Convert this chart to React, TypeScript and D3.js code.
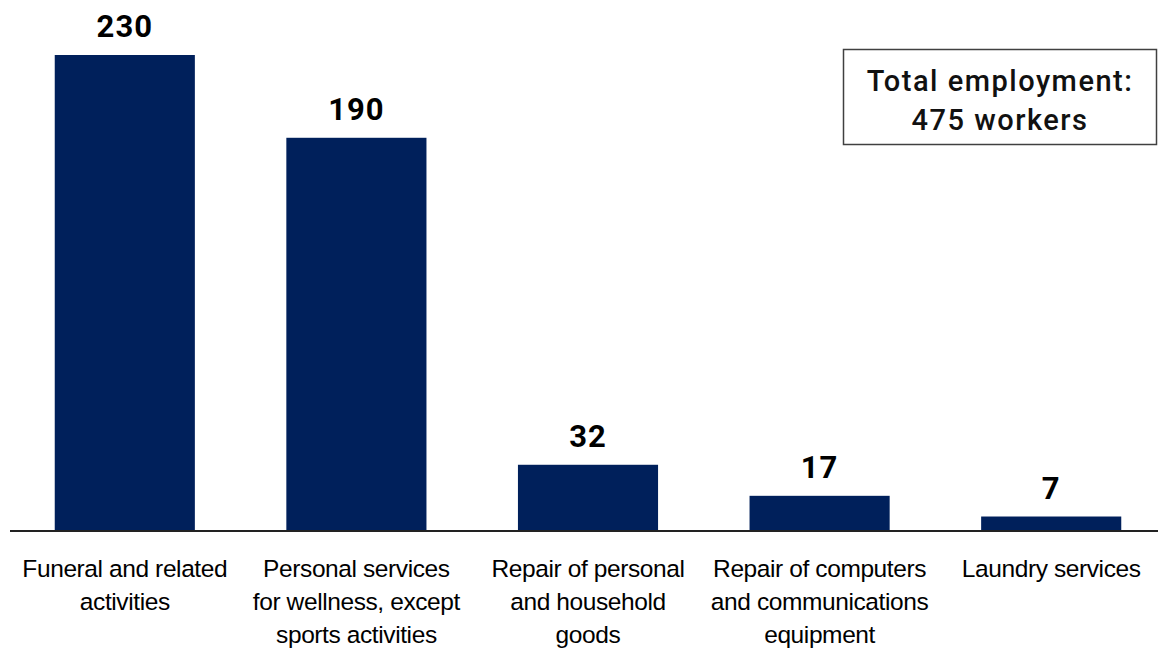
import React, { useEffect, useRef } from 'react';
import * as d3 from 'd3';

// Employment by industry (workers)
const categories: string[][] = [
  ['Funeral and related', 'activities'],
  ['Personal services', 'for wellness, except', 'sports activities'],
  ['Repair of personal', 'and household', 'goods'],
  ['Repair of computers', 'and communications', 'equipment'],
  ['Laundry services'],
];
const values: number[] = [230, 190, 32, 17, 7];
const totalLines: string[] = ['Total employment:', '475 workers'];

const App: React.FC = () => {
  const svgRef = useRef<SVGSVGElement | null>(null);

  useEffect(() => {
    if (!svgRef.current) return;
    const svg = d3.select(svgRef.current);
    svg.selectAll('*').remove();

    const width = 1158;
    const height = 650;
    const baseline = 531;

    const keys = categories.map((_, i) => String(i));
    const x = d3.scaleBand()
      .domain(keys)
      .range([9, 1167])
      .paddingInner(0.395)
      .paddingOuter(0.1975);

    const y = d3.scaleLinear()
      .domain([0, 230])
      .range([baseline, 55]);

    svg.attr('width', width).attr('height', height);

    // Bars
    svg.append('g').selectAll('rect')
      .data(values)
      .enter().append('rect')
      .attr('x', (_d, i) => x(String(i)) ?? 0)
      .attr('y', (d) => y(d))
      .attr('width', x.bandwidth())
      .attr('height', (d) => baseline - y(d))
      .style('fill', '#00205B');

    // Value labels
    svg.append('g').selectAll('text')
      .data(values)
      .enter().append('text')
      .attr('x', (_d, i) => (x(String(i)) ?? 0) + x.bandwidth() / 2)
      .attr('y', (d) => y(d) - 18)
      .attr('text-anchor', 'middle')
      .style('font-family', 'Roboto, "DejaVu Sans Condensed", sans-serif')
      .style('font-weight', 'bold')
      .style('font-size', '31px')
      .style('letter-spacing', '1px')
      .style('fill', '#000')
      .text((d) => d);

    // Baseline
    svg.append('line')
      .attr('x1', 10)
      .attr('x2', width)
      .attr('y1', baseline)
      .attr('y2', baseline)
      .attr('stroke', '#222')
      .attr('stroke-width', 2);

    // Category labels
    const labels = svg.append('g').selectAll('text')
      .data(categories)
      .enter().append('text')
      .attr('text-anchor', 'middle')
      .style('font-family', '"Liberation Sans", Arial, sans-serif')
      .style('font-size', '24.5px')
      .style('letter-spacing', '-0.4px')
      .style('fill', '#000');
    labels.each(function (lines, i) {
      const cx = (x(String(i)) ?? 0) + x.bandwidth() / 2;
      d3.select(this).selectAll('tspan')
        .data(lines)
        .enter().append('tspan')
        .attr('x', cx)
        .attr('y', (_l, j) => 577 + j * 33)
        .text((l) => l);
    });

    // Total employment box
    svg.append('rect')
      .attr('x', 843.5)
      .attr('y', 49.5)
      .attr('width', 313)
      .attr('height', 95)
      .attr('fill', '#fff')
      .attr('stroke', '#404040')
      .attr('stroke-width', 1.5);

    svg.append('g').selectAll('text')
      .data(totalLines)
      .enter().append('text')
      .attr('x', 1000)
      .attr('y', (_d, i) => 91 + i * 39)
      .attr('text-anchor', 'middle')
      .style('font-family', 'Roboto, "DejaVu Sans", sans-serif')
      .style('font-weight', 500)
      .style('font-size', '29px')
      .style('letter-spacing', '1.5px')
      .style('fill', '#111')
      .text((d) => d);
  }, []);

  return (
    <div>
      <style>{'body { margin: 0; overflow: hidden; }'}</style>
      <svg ref={svgRef} width="1158" height="650" style={{ display: 'block', overflow: 'visible' }}></svg>
    </div>
  );
};

export default App;
